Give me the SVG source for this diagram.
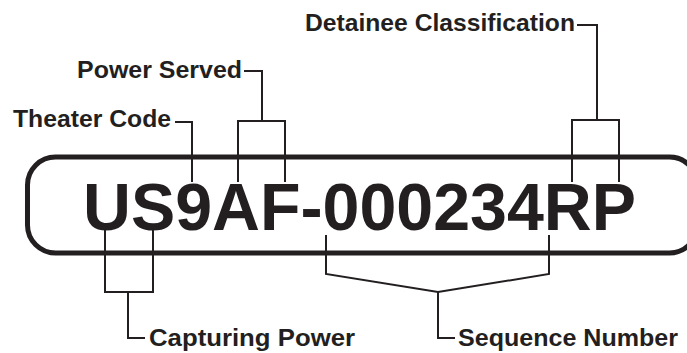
<svg xmlns="http://www.w3.org/2000/svg" width="687" height="353" viewBox="0 0 687 353">
<style>
.lbl{font-family:"Liberation Sans",Arial,Helvetica,sans-serif;font-weight:bold;font-size:24px;fill:#231f20}
.big{font-family:"Liberation Sans",Arial,Helvetica,sans-serif;font-weight:bold;font-size:67px;fill:#231f20}
.ln{fill:none;stroke:#231f20;stroke-width:2;stroke-linejoin:miter}
.frame{fill:none;stroke:#231f20;stroke-width:5}
</style>
<rect width="687" height="353" fill="#ffffff"/>
<g id="frame">
<rect class="frame" x="27.5" y="157" width="670" height="96" rx="28" ry="28"/>
</g>
<g id="code">
<text class="big" x="83" y="230" textLength="553" lengthAdjust="spacingAndGlyphs">US9AF-000234RP</text>
</g>
<g id="connectors">
<polyline class="ln" points="175,122 192,122 192,182"/>
<polyline class="ln" points="244,71 262,71 262,121"/>
<polyline class="ln" points="238,182 238,121 285,121 285,182"/>
<polyline class="ln" points="577,25 597,25 597,120"/>
<polyline class="ln" points="572,182 572,120 619,120 619,182"/>
<polyline class="ln" points="105,230 105,292 153,292 153,230"/>
<polyline class="ln" points="128,292 128,338 145,338"/>
<polyline class="ln" points="326,235 326,274 438,292 549,274 549,235"/>
<polyline class="ln" points="438,292 438,338 455,338"/>
</g>
<g id="theater-code"><text class="lbl" x="13" y="127" textLength="158" lengthAdjust="spacingAndGlyphs">Theater Code</text></g>
<g id="power-served"><text class="lbl" x="77" y="78" textLength="165" lengthAdjust="spacingAndGlyphs">Power Served</text></g>
<g id="detainee-classification"><text class="lbl" x="305" y="31" textLength="270" lengthAdjust="spacingAndGlyphs">Detainee Classification</text></g>
<g id="capturing-power"><text class="lbl" x="149" y="346" textLength="206" lengthAdjust="spacingAndGlyphs">Capturing Power</text></g>
<g id="sequence-number"><text class="lbl" x="458" y="346" textLength="220" lengthAdjust="spacingAndGlyphs">Sequence Number</text></g>
</svg>
